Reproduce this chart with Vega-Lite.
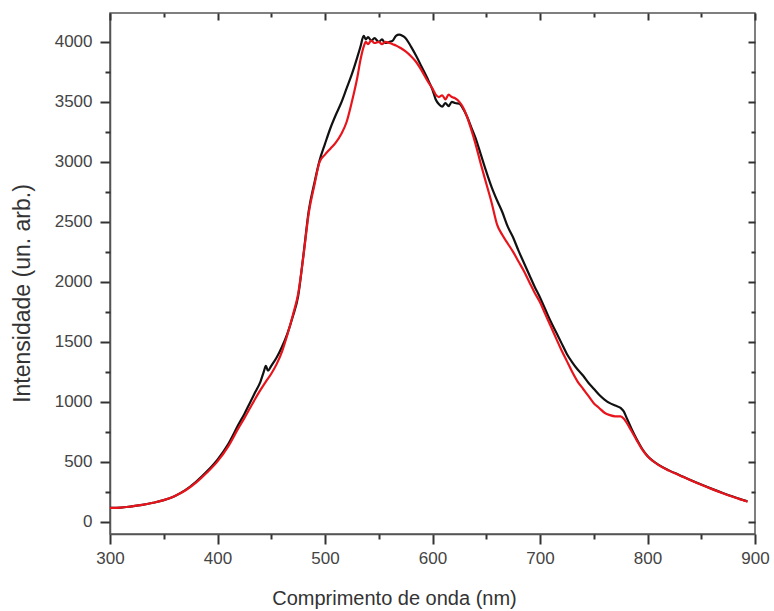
{
  "$schema": "https://vega.github.io/schema/vega-lite/v6.json",
  "width": 645,
  "height": 521,
  "autosize": {"type": "none"},
  "padding": {"left": 110, "top": 13, "right": 19, "bottom": 77},
  "background": "white",
  "config": {
    "view": {"stroke": "#555555", "strokeWidth": 1.5},
    "font": "Liberation Sans",
    "axis": {
      "grid": false,
      "ticks": true,
      "tickOpacity": 1,
      "domainColor": "#555555",
      "domainWidth": 1.5,
      "tickColor": "#333333",
      "tickWidth": 2,
      "labelFont": "Liberation Sans",
      "labelColor": "#444444",
      "labelFlush": false,
      "titleFont": "Liberation Sans",
      "titleFontWeight": "normal",
      "titleColor": "#333333"
    }
  },
  "datasets": {
    "spectra": [
      {"curva": "preto", "nm": 300, "v": 118}, {"curva": "preto", "nm": 310, "v": 120}, {"curva": "preto", "nm": 320, "v": 130}, {"curva": "preto", "nm": 330, "v": 142}, {"curva": "preto", "nm": 340, "v": 160}, {"curva": "preto", "nm": 350, "v": 182}, {"curva": "preto", "nm": 360, "v": 215}, {"curva": "preto", "nm": 370, "v": 265}, {"curva": "preto", "nm": 380, "v": 335}, {"curva": "preto", "nm": 390, "v": 420}, {"curva": "preto", "nm": 400, "v": 520}, {"curva": "preto", "nm": 410, "v": 650}, {"curva": "preto", "nm": 420, "v": 820}, {"curva": "preto", "nm": 425, "v": 900}, {"curva": "preto", "nm": 430, "v": 990}, {"curva": "preto", "nm": 435, "v": 1080}, {"curva": "preto", "nm": 440, "v": 1170}, {"curva": "preto", "nm": 443, "v": 1250}, {"curva": "preto", "nm": 445, "v": 1300}, {"curva": "preto", "nm": 447, "v": 1260}, {"curva": "preto", "nm": 450, "v": 1300}, {"curva": "preto", "nm": 455, "v": 1370}, {"curva": "preto", "nm": 460, "v": 1460}, {"curva": "preto", "nm": 465, "v": 1570}, {"curva": "preto", "nm": 470, "v": 1710}, {"curva": "preto", "nm": 475, "v": 1880}, {"curva": "preto", "nm": 480, "v": 2230}, {"curva": "preto", "nm": 485, "v": 2600}, {"curva": "preto", "nm": 490, "v": 2820}, {"curva": "preto", "nm": 495, "v": 3014}, {"curva": "preto", "nm": 500, "v": 3150}, {"curva": "preto", "nm": 505, "v": 3280}, {"curva": "preto", "nm": 510, "v": 3390}, {"curva": "preto", "nm": 515, "v": 3490}, {"curva": "preto", "nm": 520, "v": 3610}, {"curva": "preto", "nm": 525, "v": 3730}, {"curva": "preto", "nm": 530, "v": 3870}, {"curva": "preto", "nm": 533, "v": 3960}, {"curva": "preto", "nm": 536, "v": 4050}, {"curva": "preto", "nm": 538, "v": 4020}, {"curva": "preto", "nm": 540, "v": 4040}, {"curva": "preto", "nm": 543, "v": 4010}, {"curva": "preto", "nm": 546, "v": 4030}, {"curva": "preto", "nm": 550, "v": 4000}, {"curva": "preto", "nm": 553, "v": 4020}, {"curva": "preto", "nm": 556, "v": 3990}, {"curva": "preto", "nm": 560, "v": 4000}, {"curva": "preto", "nm": 563, "v": 4010}, {"curva": "preto", "nm": 566, "v": 4050}, {"curva": "preto", "nm": 569, "v": 4060}, {"curva": "preto", "nm": 572, "v": 4050}, {"curva": "preto", "nm": 575, "v": 4030}, {"curva": "preto", "nm": 578, "v": 3990}, {"curva": "preto", "nm": 580, "v": 3960}, {"curva": "preto", "nm": 585, "v": 3880}, {"curva": "preto", "nm": 590, "v": 3790}, {"curva": "preto", "nm": 595, "v": 3700}, {"curva": "preto", "nm": 600, "v": 3600}, {"curva": "preto", "nm": 603, "v": 3520}, {"curva": "preto", "nm": 606, "v": 3480}, {"curva": "preto", "nm": 609, "v": 3460}, {"curva": "preto", "nm": 612, "v": 3490}, {"curva": "preto", "nm": 615, "v": 3465}, {"curva": "preto", "nm": 618, "v": 3500}, {"curva": "preto", "nm": 621, "v": 3490}, {"curva": "preto", "nm": 625, "v": 3485}, {"curva": "preto", "nm": 628, "v": 3450}, {"curva": "preto", "nm": 632, "v": 3380}, {"curva": "preto", "nm": 636, "v": 3290}, {"curva": "preto", "nm": 640, "v": 3200}, {"curva": "preto", "nm": 645, "v": 3060}, {"curva": "preto", "nm": 650, "v": 2920}, {"curva": "preto", "nm": 655, "v": 2790}, {"curva": "preto", "nm": 660, "v": 2680}, {"curva": "preto", "nm": 665, "v": 2580}, {"curva": "preto", "nm": 670, "v": 2460}, {"curva": "preto", "nm": 675, "v": 2370}, {"curva": "preto", "nm": 680, "v": 2260}, {"curva": "preto", "nm": 685, "v": 2160}, {"curva": "preto", "nm": 690, "v": 2060}, {"curva": "preto", "nm": 695, "v": 1960}, {"curva": "preto", "nm": 700, "v": 1870}, {"curva": "preto", "nm": 705, "v": 1770}, {"curva": "preto", "nm": 710, "v": 1670}, {"curva": "preto", "nm": 715, "v": 1580}, {"curva": "preto", "nm": 720, "v": 1490}, {"curva": "preto", "nm": 725, "v": 1400}, {"curva": "preto", "nm": 730, "v": 1330}, {"curva": "preto", "nm": 735, "v": 1270}, {"curva": "preto", "nm": 740, "v": 1220}, {"curva": "preto", "nm": 745, "v": 1160}, {"curva": "preto", "nm": 750, "v": 1110}, {"curva": "preto", "nm": 755, "v": 1060}, {"curva": "preto", "nm": 760, "v": 1020}, {"curva": "preto", "nm": 765, "v": 990}, {"curva": "preto", "nm": 770, "v": 970}, {"curva": "preto", "nm": 775, "v": 950}, {"curva": "preto", "nm": 778, "v": 920}, {"curva": "preto", "nm": 780, "v": 880}, {"curva": "preto", "nm": 785, "v": 780}, {"curva": "preto", "nm": 790, "v": 690}, {"curva": "preto", "nm": 795, "v": 610}, {"curva": "preto", "nm": 800, "v": 550}, {"curva": "preto", "nm": 805, "v": 510}, {"curva": "preto", "nm": 810, "v": 478}, {"curva": "preto", "nm": 820, "v": 430}, {"curva": "preto", "nm": 830, "v": 390}, {"curva": "preto", "nm": 840, "v": 350}, {"curva": "preto", "nm": 850, "v": 312}, {"curva": "preto", "nm": 860, "v": 276}, {"curva": "preto", "nm": 870, "v": 242}, {"curva": "preto", "nm": 880, "v": 210}, {"curva": "preto", "nm": 890, "v": 180}, {"curva": "preto", "nm": 893, "v": 172},
      {"curva": "vermelho", "nm": 300, "v": 118}, {"curva": "vermelho", "nm": 310, "v": 120}, {"curva": "vermelho", "nm": 320, "v": 130}, {"curva": "vermelho", "nm": 330, "v": 142}, {"curva": "vermelho", "nm": 340, "v": 160}, {"curva": "vermelho", "nm": 350, "v": 182}, {"curva": "vermelho", "nm": 360, "v": 215}, {"curva": "vermelho", "nm": 370, "v": 262}, {"curva": "vermelho", "nm": 380, "v": 328}, {"curva": "vermelho", "nm": 390, "v": 410}, {"curva": "vermelho", "nm": 400, "v": 505}, {"curva": "vermelho", "nm": 410, "v": 630}, {"curva": "vermelho", "nm": 420, "v": 790}, {"curva": "vermelho", "nm": 425, "v": 865}, {"curva": "vermelho", "nm": 430, "v": 945}, {"curva": "vermelho", "nm": 435, "v": 1025}, {"curva": "vermelho", "nm": 440, "v": 1100}, {"curva": "vermelho", "nm": 445, "v": 1170}, {"curva": "vermelho", "nm": 450, "v": 1235}, {"curva": "vermelho", "nm": 455, "v": 1315}, {"curva": "vermelho", "nm": 460, "v": 1420}, {"curva": "vermelho", "nm": 465, "v": 1560}, {"curva": "vermelho", "nm": 470, "v": 1720}, {"curva": "vermelho", "nm": 475, "v": 1900}, {"curva": "vermelho", "nm": 480, "v": 2220}, {"curva": "vermelho", "nm": 485, "v": 2580}, {"curva": "vermelho", "nm": 490, "v": 2800}, {"curva": "vermelho", "nm": 495, "v": 3000}, {"curva": "vermelho", "nm": 500, "v": 3060}, {"curva": "vermelho", "nm": 505, "v": 3110}, {"curva": "vermelho", "nm": 510, "v": 3160}, {"curva": "vermelho", "nm": 515, "v": 3230}, {"curva": "vermelho", "nm": 520, "v": 3330}, {"curva": "vermelho", "nm": 525, "v": 3500}, {"curva": "vermelho", "nm": 530, "v": 3700}, {"curva": "vermelho", "nm": 533, "v": 3850}, {"curva": "vermelho", "nm": 536, "v": 3960}, {"curva": "vermelho", "nm": 538, "v": 4000}, {"curva": "vermelho", "nm": 540, "v": 3980}, {"curva": "vermelho", "nm": 543, "v": 4010}, {"curva": "vermelho", "nm": 546, "v": 3990}, {"curva": "vermelho", "nm": 550, "v": 4000}, {"curva": "vermelho", "nm": 553, "v": 3980}, {"curva": "vermelho", "nm": 556, "v": 4000}, {"curva": "vermelho", "nm": 560, "v": 3990}, {"curva": "vermelho", "nm": 563, "v": 3980}, {"curva": "vermelho", "nm": 566, "v": 3970}, {"curva": "vermelho", "nm": 570, "v": 3950}, {"curva": "vermelho", "nm": 575, "v": 3920}, {"curva": "vermelho", "nm": 580, "v": 3880}, {"curva": "vermelho", "nm": 585, "v": 3830}, {"curva": "vermelho", "nm": 590, "v": 3760}, {"curva": "vermelho", "nm": 595, "v": 3680}, {"curva": "vermelho", "nm": 600, "v": 3610}, {"curva": "vermelho", "nm": 603, "v": 3560}, {"curva": "vermelho", "nm": 606, "v": 3540}, {"curva": "vermelho", "nm": 609, "v": 3555}, {"curva": "vermelho", "nm": 612, "v": 3520}, {"curva": "vermelho", "nm": 615, "v": 3560}, {"curva": "vermelho", "nm": 618, "v": 3540}, {"curva": "vermelho", "nm": 621, "v": 3530}, {"curva": "vermelho", "nm": 625, "v": 3500}, {"curva": "vermelho", "nm": 628, "v": 3460}, {"curva": "vermelho", "nm": 632, "v": 3380}, {"curva": "vermelho", "nm": 636, "v": 3270}, {"curva": "vermelho", "nm": 640, "v": 3150}, {"curva": "vermelho", "nm": 645, "v": 2980}, {"curva": "vermelho", "nm": 650, "v": 2820}, {"curva": "vermelho", "nm": 655, "v": 2660}, {"curva": "vermelho", "nm": 660, "v": 2480}, {"curva": "vermelho", "nm": 665, "v": 2390}, {"curva": "vermelho", "nm": 670, "v": 2320}, {"curva": "vermelho", "nm": 675, "v": 2250}, {"curva": "vermelho", "nm": 680, "v": 2170}, {"curva": "vermelho", "nm": 685, "v": 2090}, {"curva": "vermelho", "nm": 690, "v": 2000}, {"curva": "vermelho", "nm": 695, "v": 1910}, {"curva": "vermelho", "nm": 700, "v": 1830}, {"curva": "vermelho", "nm": 705, "v": 1730}, {"curva": "vermelho", "nm": 710, "v": 1630}, {"curva": "vermelho", "nm": 715, "v": 1530}, {"curva": "vermelho", "nm": 720, "v": 1430}, {"curva": "vermelho", "nm": 725, "v": 1340}, {"curva": "vermelho", "nm": 730, "v": 1250}, {"curva": "vermelho", "nm": 735, "v": 1170}, {"curva": "vermelho", "nm": 740, "v": 1110}, {"curva": "vermelho", "nm": 745, "v": 1050}, {"curva": "vermelho", "nm": 750, "v": 990}, {"curva": "vermelho", "nm": 755, "v": 950}, {"curva": "vermelho", "nm": 760, "v": 910}, {"curva": "vermelho", "nm": 765, "v": 890}, {"curva": "vermelho", "nm": 770, "v": 880}, {"curva": "vermelho", "nm": 775, "v": 880}, {"curva": "vermelho", "nm": 778, "v": 860}, {"curva": "vermelho", "nm": 780, "v": 835}, {"curva": "vermelho", "nm": 785, "v": 760}, {"curva": "vermelho", "nm": 790, "v": 680}, {"curva": "vermelho", "nm": 795, "v": 605}, {"curva": "vermelho", "nm": 800, "v": 548}, {"curva": "vermelho", "nm": 805, "v": 508}, {"curva": "vermelho", "nm": 810, "v": 476}, {"curva": "vermelho", "nm": 820, "v": 428}, {"curva": "vermelho", "nm": 830, "v": 388}, {"curva": "vermelho", "nm": 840, "v": 348}, {"curva": "vermelho", "nm": 850, "v": 310}, {"curva": "vermelho", "nm": 860, "v": 274}, {"curva": "vermelho", "nm": 870, "v": 240}, {"curva": "vermelho", "nm": 880, "v": 208}, {"curva": "vermelho", "nm": 890, "v": 178}, {"curva": "vermelho", "nm": 893, "v": 170}
    ]
  },
  "data": {"name": "spectra"},
  "layer": [
    {
      "mark": {"type": "line", "strokeWidth": 2.2, "interpolate": "monotone"},
      "encoding": {
        "x": {
          "field": "nm", "type": "quantitative",
          "scale": {"domain": [300, 900], "nice": false, "zero": false},
          "axis": {
            "orient": "bottom",
            "ticks": true,
            "title": "Comprimento de onda (nm)",
            "titleFontSize": 20,
            "titleBaseline": "middle",
            "titleAlign": "center",
            "titleX": 284,
            "titleY": 64,
            "values": [300, 400, 500, 600, 700, 800, 900],
            "labelFontSize": 17,
            "tickSize": 10,
            "labelPadding": 6
          }
        },
        "y": {
          "field": "v", "type": "quantitative",
          "scale": {"domain": [-100, 4240], "nice": false, "zero": false},
          "axis": {
            "orient": "left",
            "ticks": true,
            "title": "Intensidade (un. arb.)",
            "titleFontSize": 23,
            "titleBaseline": "middle",
            "titleAlign": "center",
            "titleX": -88,
            "titleY": 280,
            "values": [0, 500, 1000, 1500, 2000, 2500, 3000, 3500, 4000],
            "labelFontSize": 17,
            "tickSize": 10,
            "labelPadding": 8,
            "format": "d"
          }
        },
        "color": {
          "field": "curva", "type": "nominal",
          "scale": {"domain": ["preto", "vermelho"], "range": ["#111111", "#e8141c"]},
          "legend": null
        }
      }
    },
    {
      "mark": {"type": "line", "strokeOpacity": 0},
      "encoding": {
        "x": {
          "field": "nm", "type": "quantitative",
          "axis": {
            "orient": "bottom", "ticks": true, "title": null, "labels": false, "domain": false,
            "values": [350, 450, 550, 650, 750, 850],
            "tickSize": 5
          }
        },
        "y": {
          "field": "v", "type": "quantitative",
          "axis": {
            "orient": "left", "ticks": true, "title": null, "labels": false, "domain": false,
            "values": [250, 750, 1250, 1750, 2250, 2750, 3250, 3750],
            "tickSize": 5
          }
        },
        "detail": {"field": "curva", "type": "nominal"}
      }
    },
    {
      "mark": {"type": "line", "strokeOpacity": 0},
      "encoding": {
        "x": {
          "field": "nm", "type": "quantitative",
          "axis": {
            "orient": "top", "ticks": true, "title": null, "labels": false, "domain": false, "zindex": 1,
            "offset": -7,
            "values": [300, 400, 500, 600, 700, 800, 900],
            "tickSize": 7
          }
        },
        "y": {
          "field": "v", "type": "quantitative",
          "axis": {
            "orient": "right", "ticks": true, "title": null, "labels": false, "domain": false, "zindex": 1,
            "offset": -7,
            "values": [0, 500, 1000, 1500, 2000, 2500, 3000, 3500, 4000],
            "tickSize": 7
          }
        },
        "detail": {"field": "curva", "type": "nominal"}
      }
    },
    {
      "mark": {"type": "line", "strokeOpacity": 0},
      "encoding": {
        "x": {
          "field": "nm", "type": "quantitative",
          "axis": {
            "orient": "top", "ticks": true, "title": null, "labels": false, "domain": false, "zindex": 1,
            "offset": -4,
            "values": [350, 450, 550, 650, 750, 850],
            "tickSize": 4
          }
        },
        "y": {
          "field": "v", "type": "quantitative",
          "axis": {
            "orient": "right", "ticks": true, "title": null, "labels": false, "domain": false, "zindex": 1,
            "offset": -4,
            "values": [250, 750, 1250, 1750, 2250, 2750, 3250, 3750],
            "tickSize": 4
          }
        },
        "detail": {"field": "curva", "type": "nominal"}
      }
    }
  ],
  "resolve": {"axis": {"x": "independent", "y": "independent"}}
}
